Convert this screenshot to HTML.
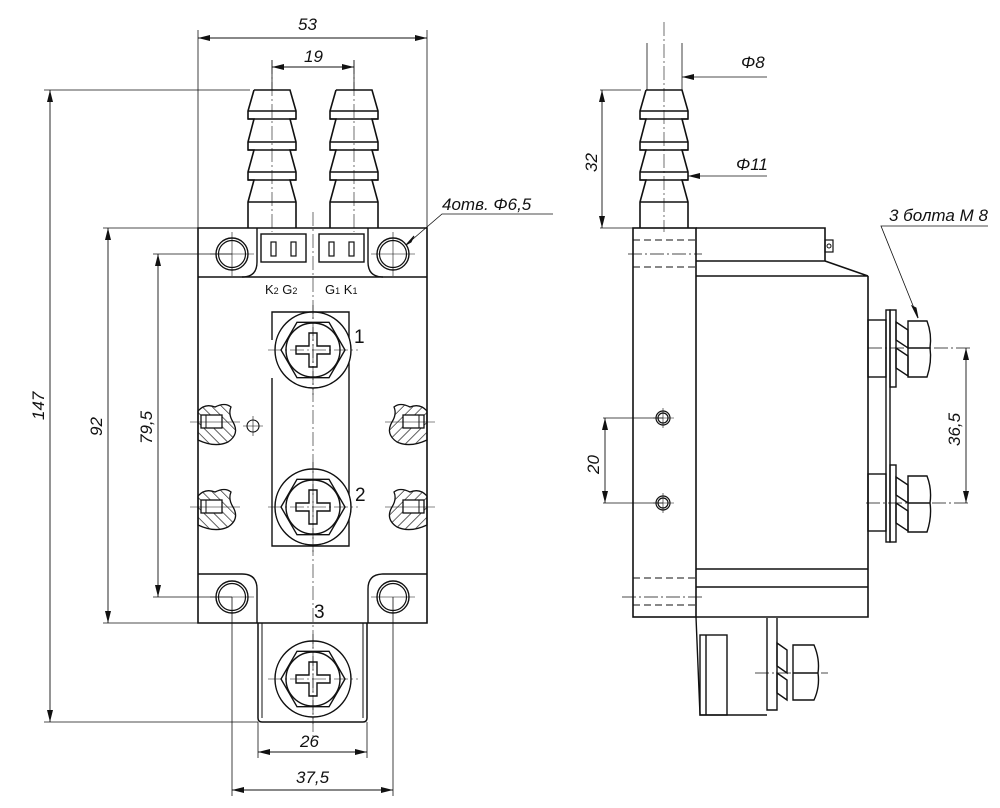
<!DOCTYPE html>
<html><head><meta charset="utf-8"><style>
html,body{margin:0;padding:0;background:#fff}
svg{display:block}
.t{font-family:"Liberation Sans",sans-serif;font-style:italic;font-size:17px;fill:#111}
.n{font-family:"Liberation Sans",sans-serif;font-size:19px;fill:#111}
.s{font-family:"Liberation Sans",sans-serif;font-size:13px;fill:#111}
</style></head><body>
<svg width="1000" height="808" viewBox="0 0 1000 808" xmlns="http://www.w3.org/2000/svg">
<defs>
<marker id="a" viewBox="0 0 12 6" refX="12" refY="3" markerWidth="12" markerHeight="6" orient="auto-start-reverse" markerUnits="userSpaceOnUse"><path d="M0,0 L12,3 L0,6z" fill="#111"/></marker>
<g id="nip" fill="none" stroke="#111" stroke-width="1.6">
<path d="M-18,90 H18 L24,111 V119 H18 L24,142 V150 H18 L24,172 V180 H18 L24,202 V228 M-18,90 L-24,111 V119 H-18 L-24,142 V150 H-18 L-24,172 V180 H-18 L-24,202 V228"/>
<path d="M-24,111 H24 M-24,119 H24 M-24,142 H24 M-24,150 H24 M-24,172 H24 M-24,180 H24 M-24,202 H24"/>
</g>
<g id="term" fill="none" stroke="#111" stroke-width="1.4">
<circle r="38"/>
<polygon points="32,0 16,27.7 -16,27.7 -32,0 -16,-27.7 16,-27.7"/>
<circle r="27"/>
<path d="M-4,-17 H4 V-4 H17 V4 H4 V17 H-4 V4 H-17 V-4 H-4Z"/>
<path d="M-45,0 H45 M0,-45 V45" stroke-width="0.6" stroke-dasharray="14,3,2,3"/>
</g>
<pattern id="h" width="7" height="7" patternUnits="userSpaceOnUse" patternTransform="rotate(-45)"><line x1="0" y1="0" x2="0" y2="7" stroke="#111" stroke-width="1.3"/></pattern>
<g id="blob">
<path d="M0,8 Q7,0 17,4 Q27,-1 33,4 Q30,11 35,19 Q42,31 30,39 Q17,45 0,37Z" fill="url(#h)" stroke="#111" stroke-width="1.3"/>
<rect x="3" y="12" width="21" height="13" fill="#fff" stroke="#111" stroke-width="1.3"/>
<line x1="8" y1="12" x2="8" y2="25" stroke="#111" stroke-width="1"/>
</g>
<g id="hole"><circle r="16" fill="none" stroke="#111" stroke-width="1.4"/><circle r="13.5" fill="none" stroke="#111" stroke-width="1.2"/></g>
</defs>

<!-- ===== LEFT VIEW ===== -->
<g stroke="#111" fill="none">
<!-- thin construction/dim lines -->
<g stroke-width="0.8">
<line x1="198" y1="30" x2="198" y2="228"/><line x1="427" y1="30" x2="427" y2="228"/>
<line x1="272" y1="60" x2="272" y2="90"/><line x1="354" y1="60" x2="354" y2="90"/>
<line x1="44" y1="90" x2="250" y2="90"/>
<line x1="103" y1="228" x2="198" y2="228"/>
<line x1="153" y1="254" x2="232" y2="254"/>
<line x1="153" y1="597" x2="232" y2="597"/>
<line x1="103" y1="623" x2="198" y2="623"/>
<line x1="44" y1="722" x2="258" y2="722"/>
<line x1="232" y1="597" x2="232" y2="796"/><line x1="393" y1="597" x2="393" y2="796"/>
<line x1="258" y1="722" x2="258" y2="758"/><line x1="367" y1="722" x2="367" y2="758"/>
</g>
<g stroke-width="0.9" marker-start="url(#a)" marker-end="url(#a)">
<line x1="198" y1="38" x2="427" y2="38"/>
<line x1="272" y1="67" x2="354" y2="67"/>
<line x1="50" y1="90" x2="50" y2="722"/>
<line x1="108" y1="228" x2="108" y2="623"/>
<line x1="158" y1="254" x2="158" y2="597"/>
<line x1="258" y1="752" x2="367" y2="752"/>
<line x1="232" y1="790" x2="393" y2="790"/>
</g>
<!-- nipples -->
<use href="#nip" x="272"/><use href="#nip" x="354"/>
<g stroke-width="0.6" stroke-dasharray="14,3,2,3"><line x1="272" y1="60" x2="272" y2="232"/><line x1="354" y1="60" x2="354" y2="232"/></g>
<!-- body -->
<path d="M198,228 H427 V623 H198 Z" stroke-width="1.6"/>
<path d="M198,277 H427" stroke-width="1.6"/>
<path d="M257,228 V262 Q257,277 242,277 M368,228 V262 Q368,277 383,277" stroke-width="1.4"/>
<rect x="261" y="234" width="45" height="28" stroke-width="1.4"/>
<rect x="319" y="234" width="45" height="28" stroke-width="1.4"/>
<g stroke-width="1.2"><rect x="271" y="242" width="5" height="14"/><rect x="291" y="242" width="5" height="14"/><rect x="329" y="242" width="5" height="14"/><rect x="349" y="242" width="5" height="14"/></g>
<use href="#hole" x="232" y="254"/><use href="#hole" x="393" y="254"/>
<g stroke-width="0.6"><path d="M210,254 H254 M232,232 V276 M371,254 H415 M393,232 V276"/></g>
<!-- bottom flange -->
<path d="M198,574 H242 Q257,574 257,589 V623 M427,574 H383 Q368,574 368,589 V623" stroke-width="1.4"/>
<use href="#hole" x="232" y="597"/><use href="#hole" x="393" y="597"/>
<g stroke-width="0.6"><path d="M210,597 H254 M371,597 H415"/></g>
<!-- terminal strip -->
<path d="M272,340 V312 H349 V546 H272 V378" stroke-width="1.4"/>
<!-- bracket 3 -->
<path d="M258,623 V718 Q258,722 262,722 H363 Q367,722 367,718 V623" stroke-width="1.5"/>
<path d="M262,623 V718 M363,623 V718" stroke-width="1"/>
<g fill="#fff"><circle cx="313" cy="350" r="38"/><circle cx="313" cy="507" r="38"/><circle cx="313" cy="679" r="38"/></g>
<use href="#term" x="313" y="350"/><use href="#term" x="313" y="507"/><use href="#term" x="313" y="679"/>
<line x1="313" y1="212" x2="313" y2="740" stroke-width="0.6" stroke-dasharray="14,3,2,3"/>
<!-- hatched -->
<use href="#blob" x="198" y="403"/><use href="#blob" x="198" y="488"/>
<use href="#blob" transform="translate(427,403) scale(-1,1)"/><use href="#blob" transform="translate(427,488) scale(-1,1)"/>
<g stroke-width="0.6"><path d="M190,422 H240 M190,507 H240 M385,422 H435 M385,507 H435"/></g>
<circle cx="253" cy="426" r="6" stroke-width="1.1"/>
<path d="M243,426 H263 M253,416 V436" stroke-width="0.6"/>
<!-- leader 4 holes -->
<path d="M553,214 H442 L406,245" stroke-width="0.8"/>
<path d="M406,245 L414,236 L411,242z" fill="#111"/>
</g>
<text class="t" x="298" y="30">53</text>
<text class="t" x="304" y="62">19</text>
<text class="t" transform="translate(44,420) rotate(-90)">147</text>
<text class="t" transform="translate(102,436) rotate(-90)">92</text>
<text class="t" transform="translate(152,444) rotate(-90)">79,5</text>
<text class="t" x="300" y="747">26</text>
<text class="t" x="296" y="783">37,5</text>
<text class="t" x="442" y="210">4отв.  Φ6,5</text>
<text class="s" x="265" y="294">K<tspan font-size="9">2</tspan> G<tspan font-size="9">2</tspan></text>
<text class="s" x="325" y="294">G<tspan font-size="9">1</tspan> K<tspan font-size="9">1</tspan></text>
<text class="n" x="354" y="343">1</text>
<text class="n" x="355" y="501">2</text>
<text class="n" x="314" y="618">3</text>

<!-- ===== RIGHT VIEW ===== -->
<g stroke="#111" fill="none">
<use href="#nip" x="664"/>
<line x1="664" y1="22" x2="664" y2="232" stroke-width="0.6" stroke-dasharray="14,3,2,3"/>
<g stroke-width="0.8">
<line x1="647" y1="43" x2="647" y2="90"/><line x1="682" y1="43" x2="682" y2="90"/>
<line x1="600" y1="90" x2="641" y2="90"/><line x1="600" y1="228" x2="633" y2="228"/>
<line x1="682" y1="77" x2="767" y2="77" marker-start="url(#a)"/>
<line x1="688" y1="176" x2="767" y2="176" marker-start="url(#a)"/>
<line x1="603" y1="418" x2="663" y2="418"/><line x1="603" y1="503" x2="663" y2="503"/>
<line x1="868" y1="348" x2="970" y2="348" stroke-dasharray="14,3,2,3"/>
<line x1="866" y1="503" x2="970" y2="503" stroke-dasharray="14,3,2,3"/>
<path d="M988,226 H881 L918,318"/>
</g>
<path d="M918,318 L912,306 L916,308z" fill="#111"/>
<g stroke-width="0.9" marker-start="url(#a)" marker-end="url(#a)">
<line x1="602" y1="90" x2="602" y2="228"/>
<line x1="605" y1="418" x2="605" y2="503"/>
<line x1="966" y1="348" x2="966" y2="503"/>
</g>
<g stroke-width="1.6">
<rect x="633" y="228" width="63" height="389"/>
<path d="M696,228 H825 V261 H696 M825,261 L868,276 H696 M868,276 V617 H696 M696,569 H868 M696,587 H868"/>
<rect x="825" y="240" width="8" height="12" stroke-width="1.2"/>
<circle cx="829" cy="246" r="2" stroke-width="1"/>
</g>
<g stroke-width="1" stroke-dasharray="7,4"><path d="M633,240 H696 M633,267 H696 M633,578 H696 M633,605 H696"/></g>
<g stroke-width="0.8" stroke-dasharray="14,3,2,3"><path d="M628,254 H702 M622,597 H704"/></g>
<g stroke-width="1.2"><circle cx="663" cy="418" r="7"/><circle cx="663" cy="418" r="5"/><circle cx="663" cy="503" r="7"/><circle cx="663" cy="503" r="5"/></g>
<g stroke-width="0.6"><path d="M653,418 H674 M663,408 V428 M653,503 H674 M663,493 V513"/></g>
<!-- bolts -->
<g stroke-width="1.4">
<rect x="868" y="320" width="18" height="57"/><rect x="868" y="474" width="18" height="57"/>
<rect x="886" y="310" width="4" height="232"/>
<rect x="890" y="310" width="6" height="77"/><rect x="890" y="465" width="6" height="77"/>
<path d="M896,322 L908,330 V348 L896,340 Z M896,348 L908,356 V376 L896,368 Z"/>
<path d="M896,477 L908,485 V503 L896,495 Z M896,503 L908,511 V531 L896,523 Z"/>
<path d="M908,321 H927 Q932,334 930,348 Q932,362 927,377 H908 Z M908,348 H930"/>
<path d="M908,476 H927 Q932,489 930,503 Q932,517 927,532 H908 Z M908,503 H930"/>
</g>
<!-- bottom terminal -->
<g stroke-width="1.4">
<path d="M696,617 L700,715 H767 M767,618 V710 H777 V618"/>
<rect x="700" y="635" width="27" height="80"/>
<line x1="706" y1="635" x2="706" y2="715"/>
<path d="M777,643 L787,650 V673 L777,666 Z M777,673 L787,680 V700 L777,693 Z"/>
<path d="M793,645 H814 Q820,659 818,673 Q820,687 814,700 H793 Z M793,673 H818"/>
</g>
<line x1="755" y1="673" x2="828" y2="673" stroke-width="0.7" stroke-dasharray="14,3,2,3"/>
</g>
<text class="t" x="741" y="68">Φ8</text>
<text class="t" x="736" y="170">Φ11</text>
<text class="t" transform="translate(597,172) rotate(-90)">32</text>
<text class="t" transform="translate(599,474) rotate(-90)">20</text>
<text class="t" transform="translate(960,446) rotate(-90)">36,5</text>
<text class="t" x="889" y="221">3  болта М 8</text>
</svg>
</body></html>
